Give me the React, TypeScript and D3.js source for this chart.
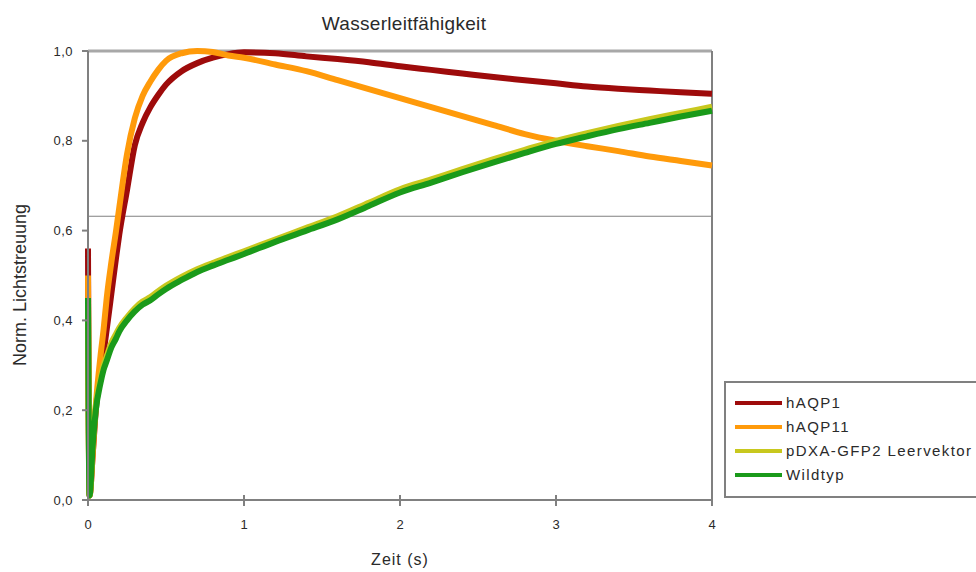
import React from "react";
import * as d3 from "d3";

const titleText = "Wasserleitfähigkeit";
const xLabel = "Zeit (s)";
const yLabel = "Norm. Lichtstreuung";
const xTicks = [0, 1, 2, 3, 4];
const yTicks = [0, 0.2, 0.4, 0.6, 0.8, 1.0];
const refLevel = 0.632;

const time = [0, 0.01, 0.03, 0.05, 0.08, 0.1, 0.12, 0.15, 0.18, 0.2, 0.25, 0.3, 0.35, 0.4, 0.45, 0.5, 0.6, 0.7, 0.8, 0.9, 1.0, 1.2, 1.4, 1.6, 1.8, 2.0, 2.2, 2.4, 2.6, 2.8, 3.0, 3.2, 3.4, 3.6, 3.8, 4.0];

const hAQP1 = [0.56, 0.01, 0.1, 0.2, 0.29, 0.33, 0.38, 0.46, 0.54, 0.59, 0.69, 0.79, 0.84, 0.875, 0.902, 0.925, 0.955, 0.973, 0.985, 0.993, 0.997, 0.995, 0.988, 0.982, 0.975, 0.966, 0.958, 0.95, 0.942, 0.935, 0.928, 0.921, 0.916, 0.912, 0.908, 0.905];
const hAQP11 = [0.5, 0.01, 0.1, 0.21, 0.32, 0.38, 0.45, 0.53, 0.6, 0.65, 0.77, 0.85, 0.9, 0.932, 0.958, 0.978, 0.995, 1.0, 0.998, 0.99, 0.985, 0.97, 0.955, 0.935, 0.915, 0.895, 0.875, 0.855, 0.835, 0.815, 0.8, 0.788, 0.777, 0.765, 0.755, 0.745];
const pDXA = [0.44, 0.01, 0.13, 0.21, 0.27, 0.3, 0.32, 0.35, 0.37, 0.383, 0.407, 0.427, 0.442, 0.452, 0.465, 0.477, 0.497, 0.514, 0.528, 0.541, 0.554, 0.58, 0.606, 0.632, 0.662, 0.692, 0.714, 0.737, 0.759, 0.78, 0.8, 0.817, 0.833, 0.848, 0.862, 0.876];
const wildtyp = [0.45, 0.01, 0.12, 0.2, 0.26, 0.29, 0.31, 0.34, 0.36, 0.375, 0.4, 0.42, 0.435, 0.445, 0.458, 0.47, 0.49, 0.508, 0.522, 0.535, 0.548, 0.575, 0.6, 0.625, 0.655, 0.685, 0.707, 0.73, 0.752, 0.773, 0.793, 0.81, 0.826, 0.84, 0.854, 0.867];

const seriesNames = ["hAQP1", "hAQP11", "pDXA-GFP2 Leervektor", "Wildtyp"];
const seriesValues = [hAQP1, hAQP11, pDXA, wildtyp];
const seriesColors = ["#9e0b0b", "#ff9a0a", "#c8c81e", "#1a9a1a"];

export default function App() {
  const W = 976, H = 572;
  const x = d3.scaleLinear().domain([0, 4]).range([88, 712]);
  const y = d3.scaleLinear().domain([0, 1]).range([500, 51]);
  const line = d3.line<number>()
    .x((_, i) => x(time[i]))
    .y((d) => y(d))
    .curve(d3.curveMonotoneX);
  const font = "'Liberation Sans', Arial, sans-serif";
  const txt = "#2a2a2a";
  const axisCol = "#808080";

  return (
    <svg width={W} height={H} style={{ position: "absolute", left: 0, top: 0, background: "#fff" }} fontFamily={font}>
      <rect x={0} y={0} width={W} height={H} fill="#fff" />
      <line x1={x(0)} x2={x(4)} y1={y(1)} y2={y(1)} stroke="#a8a8a8" strokeWidth={3} />
      <line x1={x(4)} x2={x(4)} y1={y(1)} y2={y(0)} stroke={axisCol} strokeWidth={2} />
      <line x1={x(0)} x2={x(4)} y1={y(refLevel)} y2={y(refLevel)} stroke={axisCol} strokeWidth={1.2} />
      {seriesValues.map((vals, i) => (
        <path key={seriesNames[i]} d={line(vals) || ""} fill="none" stroke={seriesColors[i]} strokeWidth={6} strokeLinejoin="round" />
      ))}
      <line x1={x(0)} x2={x(0)} y1={y(1)} y2={y(0)} stroke={axisCol} strokeWidth={2} />
      <line x1={x(0)} x2={x(4)} y1={y(0)} y2={y(0)} stroke={axisCol} strokeWidth={2} />
      {yTicks.map((t) => (
        <g key={"y" + t}>
          <line x1={x(0) - 6} x2={x(0)} y1={y(t)} y2={y(t)} stroke={axisCol} strokeWidth={2} />
          <text x={73} y={y(t)} dy="0.35em" textAnchor="end" fontSize={13} letterSpacing={0.5} fill={txt}>
            {t.toFixed(1).replace(".", ",")}
          </text>
        </g>
      ))}
      {xTicks.map((t) => (
        <g key={"x" + t}>
          <line x1={x(t)} x2={x(t)} y1={y(0) - 5} y2={y(0) + 6} stroke={axisCol} strokeWidth={2} />
          <text x={x(t)} y={529} textAnchor="middle" fontSize={13} fill={txt}>{t}</text>
        </g>
      ))}
      <text x={404} y={30} textAnchor="middle" fontSize={19} letterSpacing={0.3} fill={txt}>{titleText}</text>
      <text x={400} y={565} textAnchor="middle" fontSize={16} letterSpacing={1} fill={txt}>{xLabel}</text>
      <text transform="translate(26,285) rotate(-90)" textAnchor="middle" fontSize={18} fill={txt}>{yLabel}</text>
      <rect x={725} y={382} width={270} height={115} fill="#fff" stroke={axisCol} strokeWidth={2} />
      {seriesNames.map((n, i) => (
        <g key={"l" + n}>
          <line x1={735} x2={782} y1={403 + i * 24} y2={403 + i * 24} stroke={seriesColors[i]} strokeWidth={4} />
          <text x={786} y={403 + i * 24} dy="0.35em" fontSize={15} letterSpacing={1.4} fill={txt}>{n}</text>
        </g>
      ))}
    </svg>
  );
}
